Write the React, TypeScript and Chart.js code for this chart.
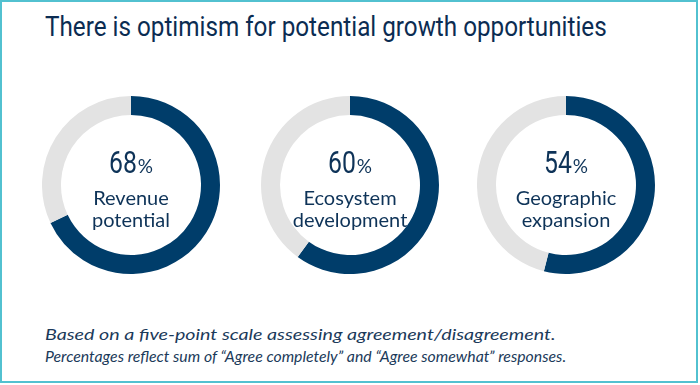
import React, { useEffect, useLayoutEffect, useRef } from "react";
import { Chart, registerables } from "chart.js";

Chart.register(...registerables);

const categories: string[][] = [
  ["Revenue", "potential"],
  ["Ecosystem", "development"],
  ["Geographic", "expansion"],
];
const agreeValues: number[] = [68, 60, 54];
const titleText = "There is optimism for potential growth opportunities";
const footnotes: string[] = [
  "Based on a five-point scale assessing agreement/disagreement.",
  "Percentages reflect sum of \u201cAgree completely\u201d and \u201cAgree somewhat\u201d responses.",
];

const NAVY = "#003d6a";
const GRAY = "#e3e3e3";
const TEXT = "#0e3358";
const CENTERS_X = [131, 350, 566];
const CENTER_Y = 185;
const RADIUS = 89;
const B = 2; // container border

function FitText({
  width,
  style,
  children,
}: {
  width: number;
  style: React.CSSProperties;
  children: React.ReactNode;
}) {
  const ref = useRef<HTMLDivElement | null>(null);
  useLayoutEffect(() => {
    const el = ref.current;
    if (!el) return;
    el.style.transform = "none";
    const w = el.scrollWidth;
    if (w > 0) el.style.transform = `scaleX(${width / w})`;
  }, [width]);
  return (
    <div
      ref={ref}
      style={{ ...style, whiteSpace: "nowrap", transformOrigin: "0 0", display: "inline-block" }}
    >
      {children}
    </div>
  );
}

function Donut({ value, cx }: { value: number; cx: number }) {
  const ref = useRef<HTMLCanvasElement | null>(null);
  useEffect(() => {
    if (!ref.current) return;
    const chart = new Chart(ref.current, {
      type: "doughnut",
      data: {
        labels: ["Agree", "Other"],
        datasets: [
          {
            data: [value, 100 - value],
            backgroundColor: [NAVY, GRAY],
            borderWidth: 0,
            hoverOffset: 0,
          },
        ],
      },
      options: {
        responsive: false,
        animation: false,
        cutout: 70,
        rotation: 0,
        circumference: 360,
        layout: { padding: 0 },
        plugins: { legend: { display: false }, tooltip: { enabled: false } },
        events: [],
      },
    });
    return () => chart.destroy();
  }, [value]);
  return (
    <canvas
      ref={ref}
      width={RADIUS * 2}
      height={RADIUS * 2}
      style={{
        position: "absolute",
        left: cx - RADIUS,
        top: CENTER_Y - B - RADIUS,
        width: RADIUS * 2,
        height: RADIUS * 2,
      }}
    />
  );
}

export default function App() {
  return (
    <div
      style={{
        position: "absolute",
        left: 0,
        top: 0,
        width: 698,
        height: 383,
        border: `${B}px solid #52c1d0`,
        boxSizing: "border-box",
        background: "#ffffff",
        overflow: "hidden",
      }}
    >
      <div style={{ position: "absolute", left: 45 - B, top: 11 - B }}>
        <FitText
          width={562}
          style={{
            fontFamily: "Roboto, sans-serif",
            fontSize: 28,
            lineHeight: "32px",
            color: "#0b2c52",
          }}
        >
          {titleText}
        </FitText>
      </div>
      {agreeValues.map((v, i) => {
        const cx = CENTERS_X[i] - B;
        return (
          <React.Fragment key={i}>
            <Donut value={v} cx={cx} />
            <div
              style={{
                position: "absolute",
                left: cx - 90,
                width: 180,
                top: 148 - B,
                textAlign: "center",
                color: TEXT,
                whiteSpace: "nowrap",
                lineHeight: "30px",
              }}
            >
              <span
                style={{
                  display: "inline-block",
                  fontFamily: "Roboto, sans-serif",
                  fontSize: 31,
                  transform: "scaleX(0.8)",
                  transformOrigin: "100% 0",
                  marginLeft: -7,
                }}
              >
                {v}
              </span>
              <span style={{ fontFamily: "Lato, sans-serif", fontSize: 19, marginLeft: 1 }}>%</span>
            </div>
            <div
              style={{
                position: "absolute",
                left: cx - 90,
                width: 180,
                top: 186 - B,
                textAlign: "center",
                color: TEXT,
                whiteSpace: "nowrap",
                fontFamily: "Lato, sans-serif",
                fontSize: 20,
                lineHeight: "22px",
              }}
            >
              <div>{categories[i][0]}</div>
              <div>{categories[i][1]}</div>
            </div>
          </React.Fragment>
        );
      })}
      <div style={{ position: "absolute", left: 45 - B, top: 323 - B }}>
        {footnotes.map((f, i) => (
          <div key={i} style={{ height: 22 }}>
            <FitText
              width={i === 0 ? 510 : 521}
              style={{
                fontFamily: "Lato, sans-serif",
                fontStyle: "italic",
                fontSize: 16,
                lineHeight: "22px",
                color: "#1b3a5a",
              }}
            >
              {f}
            </FitText>
          </div>
        ))}
      </div>
    </div>
  );
}
